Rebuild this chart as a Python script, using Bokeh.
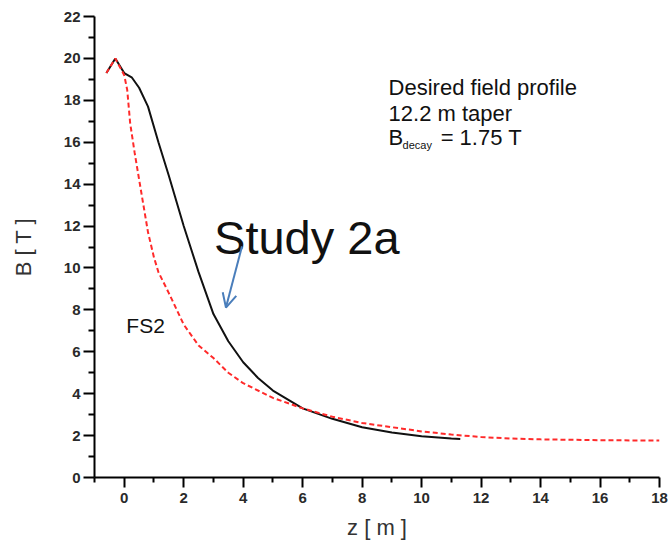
from bokeh.plotting import figure
from bokeh.models import Range1d, FixedTicker, Label, Arrow, OpenHead
from bokeh.embed import file_html
from bokeh.resources import INLINE

# ---- data ----
z_study2a = [-0.6, -0.3, 0.0, 0.25, 0.5, 0.8, 1.15, 1.5, 2.0, 2.5, 3.0, 3.5, 4.0, 4.5,
             5.0, 6.0, 7.0, 8.0, 9.0, 10.0, 11.0, 11.3]
b_study2a = [19.3, 20.0, 19.3, 19.1, 18.6, 17.7, 16.0, 14.4, 12.0, 9.8, 7.8, 6.5, 5.5, 4.75,
             4.15, 3.3, 2.8, 2.4, 2.15, 1.97, 1.86, 1.84]

z_fs2 = [-0.6, -0.3, 0.0, 0.1, 0.2, 0.35, 0.55, 0.8, 1.0, 1.15, 1.5, 2.0, 2.5, 3.0, 3.5,
         4.0, 5.0, 6.0, 7.0, 8.0, 9.0, 10.0, 11.0, 12.0, 13.0, 14.0, 16.0, 18.0]
b_fs2 = [19.3, 20.0, 19.2, 18.5, 16.9, 15.5, 13.8, 11.7, 10.5, 9.8, 8.8, 7.3, 6.3, 5.7, 5.0,
         4.5, 3.8, 3.3, 2.9, 2.6, 2.4, 2.2, 2.05, 1.93, 1.86, 1.82, 1.78, 1.76]

x_major_ticks = [0, 2, 4, 6, 8, 10, 12, 14, 16, 18]
x_minor_ticks = [-1, 1, 3, 5, 7, 9, 11, 13, 15, 17]
y_major_ticks = [0, 2, 4, 6, 8, 10, 12, 14, 16, 18, 20, 22]
y_minor_ticks = [1, 3, 5, 7, 9, 11, 13, 15, 17, 19, 21]

FONT = "Liberation Sans"

p = figure(width=669, height=545, output_backend="svg", toolbar_location=None,
           x_range=Range1d(-1, 18), y_range=Range1d(0, 22),
           min_border_left=94, min_border_right=10, min_border_top=16, min_border_bottom=68)
p.outline_line_color = None
p.xgrid.visible = False
p.ygrid.visible = False
p.background_fill_color = "white"

p.line(z_study2a, b_study2a, line_color="#111111", line_width=2)
p.line(z_fs2, b_fs2, line_color="#ff2a2a", line_width=2, line_dash="5 3")

# axes
p.xaxis.ticker = FixedTicker(ticks=x_major_ticks, minor_ticks=x_minor_ticks)
p.yaxis.ticker = FixedTicker(ticks=y_major_ticks, minor_ticks=y_minor_ticks)
p.xaxis.axis_label = "z [ m ]"
p.yaxis.axis_label = "B [ T ]"
for ax in (p.xaxis, p.yaxis):
    ax.axis_line_width = 2
    ax.axis_line_color = "black"
    ax.major_tick_line_width = 2
    ax.minor_tick_line_width = 2
    ax.major_tick_line_color = "black"
    ax.minor_tick_line_color = "black"
    ax.major_tick_in = 0
    ax.minor_tick_in = 0
    ax.major_label_text_font = FONT
    ax.major_label_text_font_size = "15px"
    ax.major_label_text_font_style = "bold"
    ax.major_label_text_color = "#2a2a2a"
    ax.axis_label_text_font = FONT
    ax.axis_label_text_font_size = "22px"
    ax.axis_label_text_font_style = "normal"
    ax.axis_label_text_color = "#333333"
p.yaxis.major_tick_out = 11
p.yaxis.minor_tick_out = 6
p.yaxis.major_label_standoff = 3
p.yaxis.axis_label_standoff = 25
p.xaxis.major_tick_out = 10
p.xaxis.minor_tick_out = 5
p.xaxis.major_label_standoff = 5
p.xaxis.axis_label_standoff = 9

# annotations
def lab(x, y, text, size, **kw):
    p.add_layout(Label(x=x, y=y, text=text, text_font=FONT, text_font_size=size,
                       text_color="#111111", text_baseline="alphabetic",
                       text_align="left", **kw))

lab(8.89, 18.62, "Desired field profile", "22px")
lab(8.89, 17.37, "12.2 m taper", "22px")
lab(8.89, 16.23, "B", "22px")
lab(9.36, 15.85, "decay", "11px")
lab(10.64, 16.23, "= 1.75 T", "22px")
lab(3.02, 11.46, "Study 2a", "47px")
lab(0.07, 7.26, "FS2", "21px")

p.add_layout(Arrow(end=OpenHead(size=14, line_color="#4a7ebb", line_width=2),
                   x_start=3.96, y_start=11.03, x_end=3.42, y_end=8.11,
                   line_color="#4a7ebb", line_width=2))

open("out.html", "w").write(file_html(p, INLINE))
